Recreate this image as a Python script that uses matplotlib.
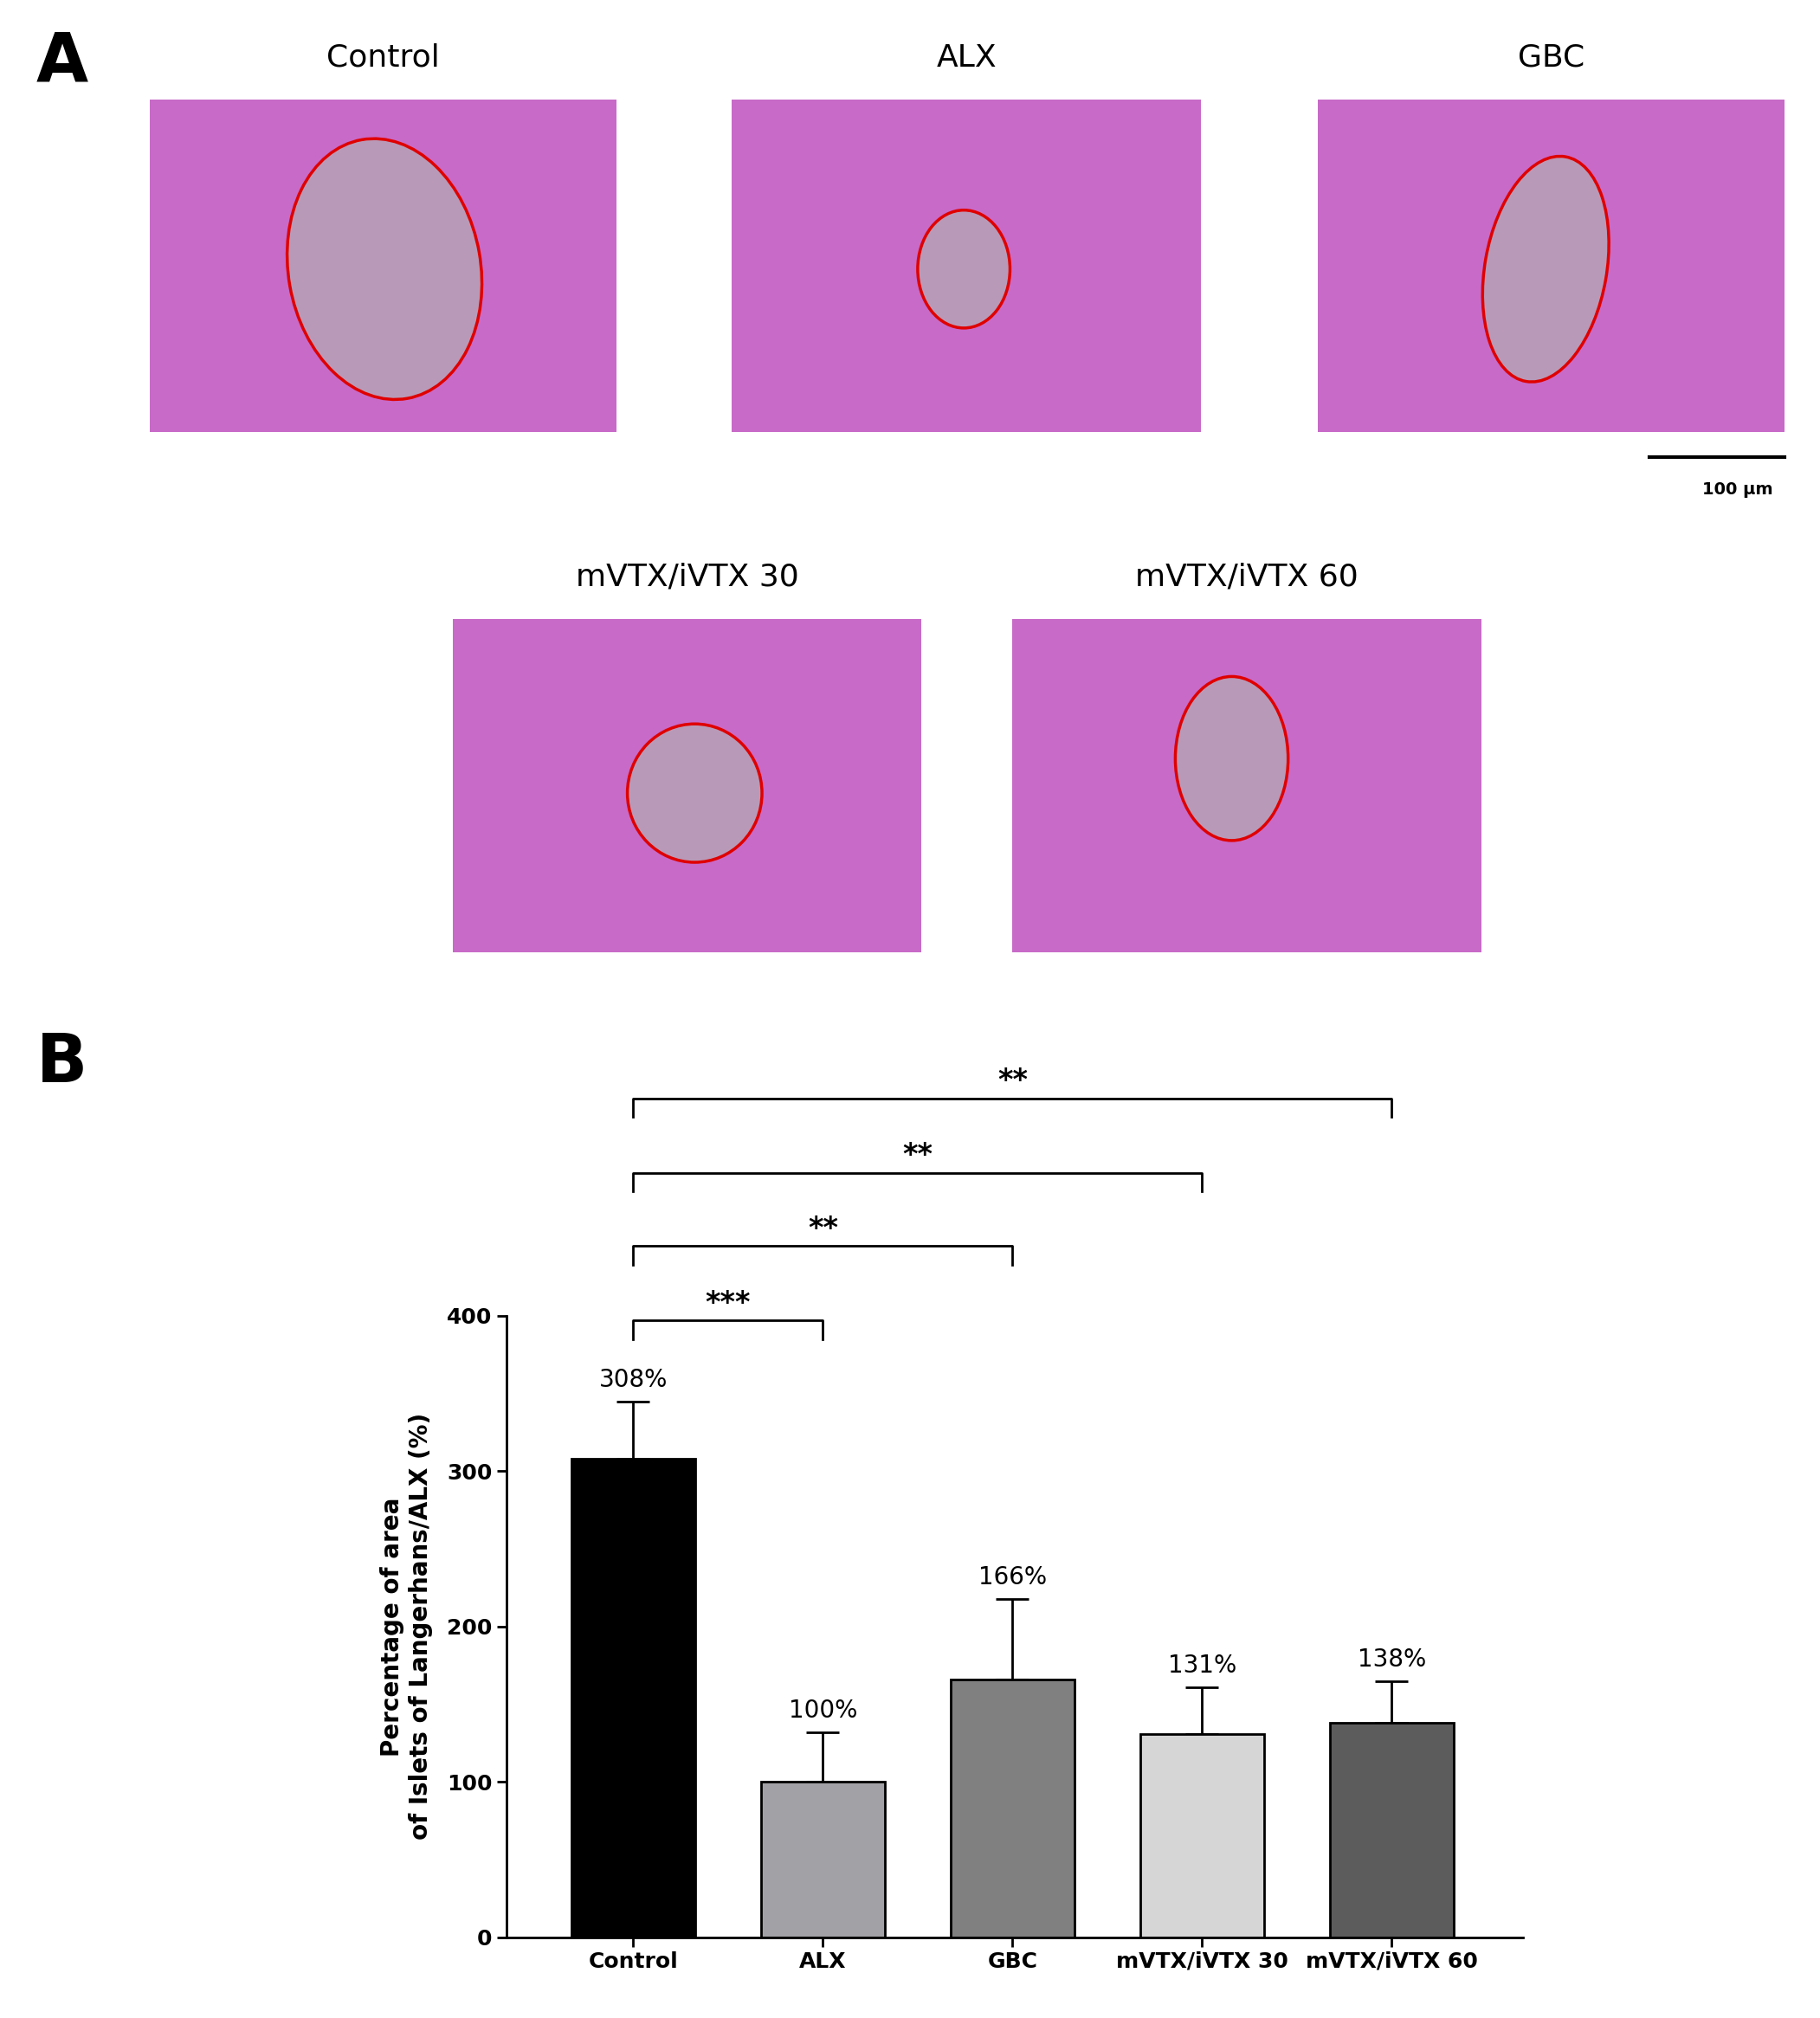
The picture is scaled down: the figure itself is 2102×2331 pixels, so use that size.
import matplotlib
matplotlib.use("Agg")
import matplotlib.pyplot as plt
from matplotlib.patches import Ellipse, Rectangle

groups = ["Control", "ALX", "GBC", "mVTX/iVTX 30", "mVTX/iVTX 60"]
means = [308, 100, 166, 131, 138]
errs = [37, 32, 52, 30, 27]
labels = ["308%", "100%", "166%", "131%", "138%"]
colors = ["#000000", "#a2a2a6", "#808080", "#d6d6d6", "#5c5c5c"]
brackets = [(0, 1, 397, "***"), (0, 2, 445, "**"), (0, 3, 492, "**"), (0, 4, 540, "**")]

W, H = 1420, 1575
fig = plt.figure(figsize=(21.02, 23.31), dpi=100)

def fx(x): return x / W
def fy(y): return 1 - y / H

# Panel A: placeholders for micrographs
imgs = [(117, 78, 481, 337, "Control", (300, 210, 150, 205, -10)),
        (571, 78, 937, 337, "ALX", (752, 210, 72, 92, 0)),
        (1028, 78, 1392, 337, "GBC", (1206, 210, 95, 178, 10)),
        (353, 483, 719, 743, "mVTX/iVTX 30", (542, 619, 105, 108, 0)),
        (790, 483, 1156, 743, "mVTX/iVTX 60", (961, 592, 88, 128, 0))]
for x0, y0, x1, y1, t, (ex, ey, ew, eh, ang) in imgs:
    ax = fig.add_axes([fx(x0), fy(y1), fx(x1 - x0), (y1 - y0) / H])
    ax.set_xlim(x0, x1); ax.set_ylim(y1, y0)
    ax.add_patch(Rectangle((x0, y0), x1 - x0, y1 - y0, color="#c86ac8"))
    ax.add_patch(Ellipse((ex, ey), ew, eh, angle=ang, facecolor="#b89ab8", edgecolor="none"))
    ax.add_patch(Ellipse((ex, ey), ew, eh, angle=ang, facecolor="none", edgecolor="#e00000", lw=2.5))
    ax.axis("off")
    fig.text(fx((x0 + x1) / 2), fy(y0 - 33), t, ha="center", va="center", fontsize=26)
fig.text(fx(28), fy(48), "A", fontsize=56, fontweight="bold", va="center")
fig.text(fx(28), fy(830), "B", fontsize=56, fontweight="bold", va="center")
fig.add_artist(plt.Line2D([fx(1287), fx(1392)], [fy(357), fy(357)], color="black", lw=3))
fig.text(fx(1356), fy(382), "100 µm", fontsize=14, fontweight="bold", ha="center", va="center")

# Panel B
ax = fig.add_axes([fx(395), fy(1512), fx(1188 - 395), (1512 - 1027) / H])
x = range(len(groups))
ax.bar(x, means, width=0.655, color=colors, edgecolor="black", lw=2, zorder=2)
ax.errorbar(x, means, yerr=[[0]*5, errs], fmt="none", ecolor="black", elinewidth=2, capsize=14, capthick=2, zorder=1)
for i, (m, e, l) in enumerate(zip(means, errs, labels)):
    ax.text(i, m + e + 6, l, ha="center", va="bottom", fontsize=20)
for a, b, y, s in brackets:
    ax.plot([a, a, b, b], [y - 12, y, y, y - 12], color="black", lw=2, clip_on=False)
    ax.text((a + b) / 2, y + 2, s, ha="center", va="bottom", fontsize=24, fontweight="bold")
ax.set_xlim(-0.67, 4.69)
ax.set_ylim(0, 400)
ax.set_yticks([0, 100, 200, 300, 400])
ax.set_xticks(list(x))
ax.set_xticklabels(groups, fontweight="bold", fontsize=18)
for t in ax.get_yticklabels():
    t.set_fontweight("bold"); t.set_fontsize(18)
ax.tick_params(width=2, length=8)
ax.spines["top"].set_visible(False); ax.spines["right"].set_visible(False)
ax.spines["left"].set_linewidth(2); ax.spines["bottom"].set_linewidth(2)
ax.set_ylabel("Percentage of area\nof Islets of Langerhans/ALX (%)", fontsize=20, fontweight="bold", labelpad=12)

fig.savefig("out.png", dpi=100)
